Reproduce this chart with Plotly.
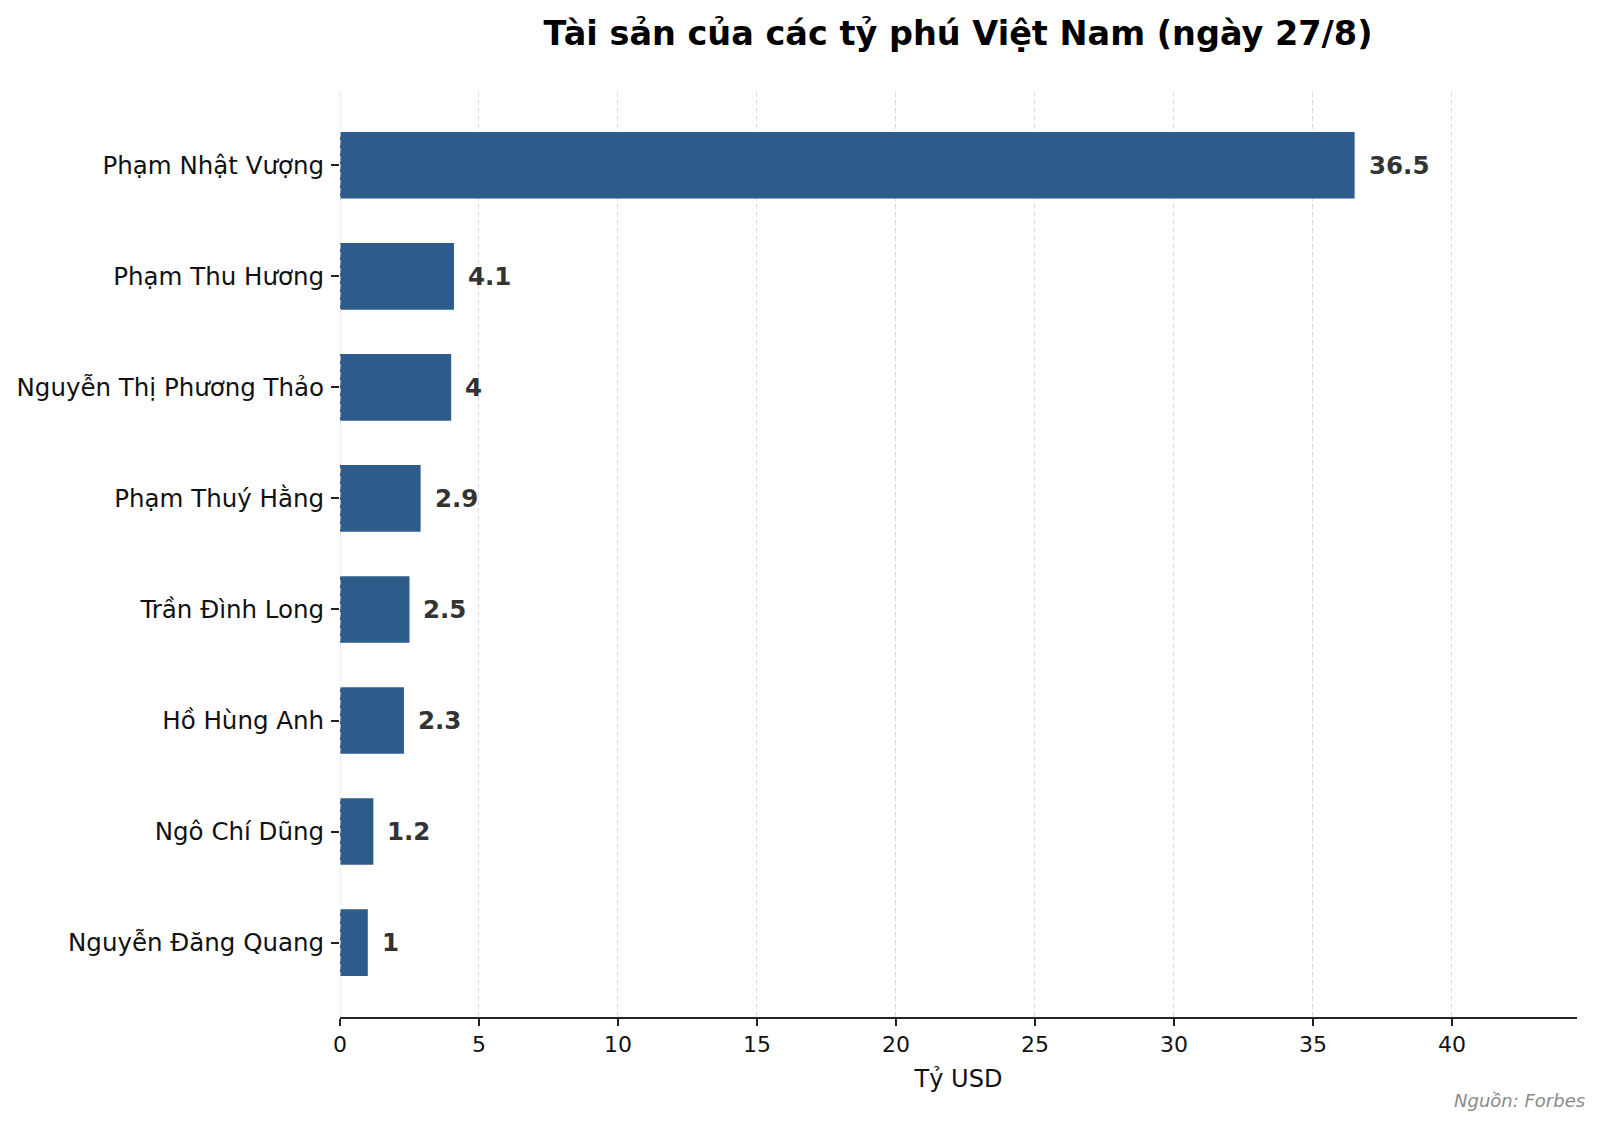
import plotly.graph_objects as go

###############################################################################
# Data
###############################################################################
NAMES = [
    'Phạm Nhật Vượng', 'Phạm Thu Hương', 'Nguyễn Thị Phương Thảo',
    'Phạm Thuý Hằng', 'Trần Đình Long', 'Hồ Hùng Anh',
    'Ngô Chí Dũng', 'Nguyễn Đăng Quang',
]
WEALTH = [36.5, 4.1, 4, 2.9, 2.5, 2.3, 1.2, 1]
XTICKS = [0, 5, 10, 15, 20, 25, 30, 35, 40]
TITLE = 'Tài sản của các tỷ phú Việt Nam (ngày 27/8)'
XLABEL = 'Tỷ USD'
SOURCE = 'Nguồn: Forbes'

FONT = 'DejaVu Sans'
BLUE = '#2d5b8a'
GRID = '#dcdcdc'
# page body keeps its default 8px margin, so the figure is 16px smaller
(W, H) = (1584, 1109)

###############################################################################
# Figure
###############################################################################
fig = go.Figure()
fig.add_trace(
    go.Bar(
        x=WEALTH, y=NAMES, orientation='h', width=0.6,
        marker=dict(color=BLUE, line=dict(width=0)),
        showlegend=False,
    )
)
for (nm, val) in zip(NAMES, WEALTH):
    fig.add_annotation(
        x=val, y=nm, text='<b>%g</b>' % val, showarrow=False,
        xanchor='left', yanchor='middle', xshift=12,
        font=dict(family=FONT, size=24.5, color='#333333'),
    )
fig.add_annotation(
    x=1, y=0, xref='paper', yref='paper', xanchor='right', yanchor='top',
    xshift=10, yshift=-71, showarrow=False,
    text='<i>' + SOURCE + '</i>', font=dict(family=FONT, size=18, color='#8a8a8a'),
)
# plotly drops the grid line that sits on the plot edge, so draw it by hand
fig.add_vline(
    x=XTICKS[0], line=dict(color=GRID, width=1.3, dash='5px,3px'), layer='above'
)
fig.update_layout(
    width=W, height=H,
    margin=dict(l=332, r=15, t=84, b=100, autoexpand=False),
    paper_bgcolor='white', plot_bgcolor='white',
    font=dict(family=FONT, color='#111111'),
    title=dict(
        text='<b>' + TITLE + '</b>', x=950 / W, xanchor='center',
        y=1 - 25 / H, yanchor='middle',
        font=dict(family=FONT, size=33.5, color='black'),
    ),
    bargap=0.4,
)
fig.update_xaxes(
    range=[0, 44.5], tickvals=XTICKS, ticks='outside', ticklen=7, tickwidth=1.5,
    tickcolor='#222222', tickfont=dict(size=22, color='#111111'),
    showline=True, linecolor='#222222', linewidth=2,
    showgrid=True, gridcolor=GRID, griddash='5px,3px', gridwidth=1.3,
    zeroline=False, layer='above traces', automargin=False,
    title=dict(text=XLABEL, font=dict(size=24, color='#111111'), standoff=14),
)
fig.update_yaxes(
    autorange=False, range=[7.67, -0.66], ticks='outside', ticklen=8,
    tickwidth=1.5, tickcolor='#222222', tickfont=dict(size=24.5, color='#111111'),
    ticklabelstandoff=2, automargin=False,
    showline=False, showgrid=False, zeroline=False,
)
fig.write_html('out.html')
